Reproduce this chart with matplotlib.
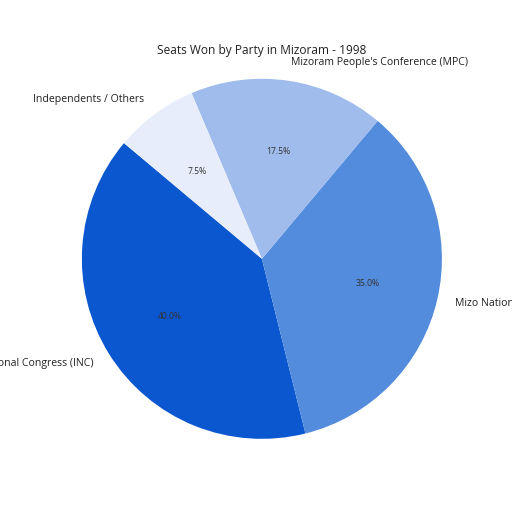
import matplotlib.pyplot as plt
plt.rcParams.update({"font.family": ["Open Sans", "DejaVu Sans"]})

parties = ["Indian National Congress (INC)", "Mizo National Front (MNF)",
           "Mizoram People's Conference (MPC)", "Independents / Others"]
shares = [40.0, 35.0, 17.5, 7.5]
colors = ["#0b57d0", "#538bdd", "#9fbcec", "#e7edfa"]

fig = plt.figure(figsize=(5.12, 5.12), dpi=100)
ax = fig.add_axes([0.072, 0.055, 0.879, 0.879])

wedges, texts, autotexts = ax.pie(shares, labels=parties, colors=colors,
                                  startangle=140, autopct="%1.1f%%",
                                  textprops={"fontsize": 7.6, "color": "#222222"})
for t in autotexts:
    t.set_fontsize(6.2)
    t.set_color("#333333")

ax.set_title("Seats Won by Party in Mizoram - 1998", fontsize=8.6, y=0.956, pad=0, color="#222222")

plt.savefig("out.png", dpi=100)
